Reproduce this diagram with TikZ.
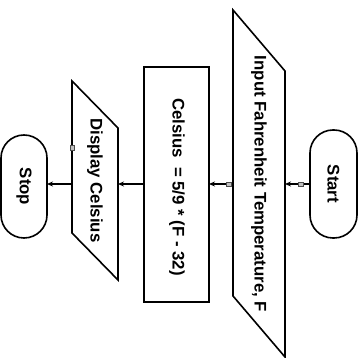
\documentclass[tikz,border=0pt]{standalone}
\usepackage{fontspec}
\setmainfont{Liberation Sans}
\usetikzlibrary{arrows.meta,calc}
\begin{document}
\begin{tikzpicture}[x=1pt,y=-1pt,
  outline/.style={draw=black,line width=1.6pt},
  frame/.style={inner sep=0pt,outer sep=0pt},
  label/.style={font=\bfseries\fontsize{16.8}{20}\selectfont,rotate=-90,inner sep=0pt},
  terminal/.style={outline,frame,rounded corners=23pt},
  arr/.style={line width=1.2pt,-{Stealth[length=6pt,width=5pt]}},
  pin/.style={draw=black!70,fill=black!25,line width=0.5pt,minimum width=5pt,minimum height=4pt,inner sep=0pt}
]
\useasboundingbox (0,0) rectangle (360,358);

% terminals
\node[terminal,minimum width=47pt,minimum height=108pt] (start) at (333.5,184) {};
\node[terminal,minimum width=46pt,minimum height=103pt] (stop) at (24,186.5) {};

% frames for the input/output parallelograms and the process box
\node[frame,minimum width=52pt,minimum height=347pt] (input) at (259,183.5) {};
\node[frame,minimum width=46pt,minimum height=199pt] (display) at (95,180.5) {};
\node[outline,frame,minimum width=65pt,minimum height=235pt] (calc) at (176.5,184.5) {};

% input parallelogram: slanted by 61pt
\draw[outline,line join=miter] (input.north west) -- ($(input.north east)+(0,61)$)
  -- (input.south east) -- ($(input.south west)+(0,-61)$) -- cycle;
% output parallelogram: slanted by 47pt
\draw[outline,line join=miter] (display.north west) -- ($(display.north east)+(0,47)$)
  -- (display.south east) -- ($(display.south west)+(0,-47)$) -- cycle;

% labels
\node[label] (tstart) at (start.center) {Start};
\node[label] (tstop) at (stop.center) {Stop};
\node[label] (tinput) at (259,184) {Input Fahrenheit Temperature, F};
\node[label] (tcalc) at (177,187) {Celsius\ \ = 5/9 * (F - 32)};
\node[label] (tdisplay) at (95,180.5) {Display Celsius};

% connectors
\draw[arr] (start.west) -- (start.west -| input.east);
\draw[arr] (start.west -| input.west) -- (start.west -| calc.east);
\draw[arr] (start.west -| calc.west) -- (start.west -| display.east);
\draw[arr] (start.west -| display.west) -- (start.west -| stop.east);

% connection markers
\node[pin] (p1) at (300.5,184) {};
\node[pin] (p2) at (229,184) {};
\node[pin,minimum width=4pt,minimum height=5pt] (p3) at (72.5,148) {};
\end{tikzpicture}
\end{document}
